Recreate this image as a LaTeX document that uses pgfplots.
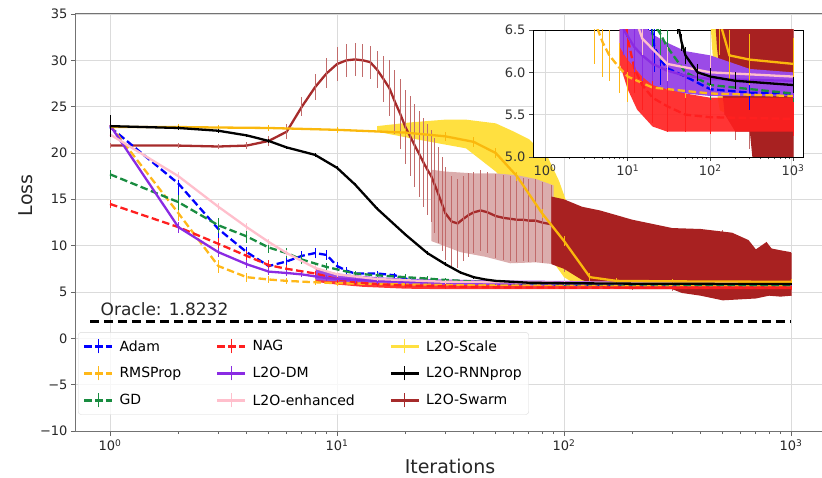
\documentclass[border=0pt]{standalone}
\usepackage{pgfplots}
\pgfplotsset{compat=1.18}
\usepackage{pgfplotstable}
\usepackage{fontspec}
\setmainfont{DejaVu Sans}

\definecolor{cAdam}{rgb}{0,0,1}
\definecolor{cRMS}{rgb}{1,0.72,0.1}
\definecolor{cGD}{rgb}{0.1,0.55,0.25}
\definecolor{cNAG}{rgb}{1,0.12,0.12}
\definecolor{cDM}{rgb}{0.54,0.17,0.89}
\definecolor{cEnh}{rgb}{1,0.75,0.8}
\definecolor{cScale}{rgb}{1,0.88,0.25}
\definecolor{cScaleLine}{rgb}{0.98,0.72,0.05}
\definecolor{cSwarm}{rgb}{0.65,0.17,0.17}
\definecolor{cSwarmDark}{rgb}{0.66,0.13,0.13}
\definecolor{cSwarmLight}{rgb}{0.86,0.68,0.68}

% mean curves: x y err
\pgfplotstableread{
x y e
1 22.8 0.6
2 16.7 1.2
3 11.8 1.0
4 9.3 0.6
5 7.8 0.5
6 8.3 0.5
7 8.9 0.5
8 9.2 0.5
9 9.0 0.5
10 7.8 0.4
11 7.3 0.4
12 7.0 0.3
15 7.0 0.3
18 6.8 0.3
21 6.3 0.3
25 6.15 0.3
30 6.05 0.2
50 5.95 0.2
100 5.8 0.2
300 5.76 0.2
1000 5.75 0.2
}\tAdam
\pgfplotstableread{
x y e
1 23.0 0.5
2 13.5 0.8
3 7.8 0.7
4 6.6 0.5
5 6.35 0.4
6 6.2 0.3
8 6.05 0.3
10 5.95 0.3
20 5.82 0.2
50 5.78 0.2
100 5.75 0.4
1000 5.72 0.2
}\tRMS
\pgfplotstableread{
x y e
1 17.7 0.5
2 14.7 0.8
3 12.2 0.8
4 11.0 0.7
5 9.8 0.6
6 9.2 0.5
7 8.5 0.5
9 7.7 0.4
12 7.0 0.3
15 6.8 0.3
20 6.6 0.3
25 6.45 0.3
30 6.3 0.2
50 6.0 0.2
100 5.85 0.2
1000 5.75 0.2
}\tGD
\pgfplotstableread{
x y e
1 14.5 0.4
2 12.0 0.6
3 10.2 0.6
4 8.9 0.5
5 7.9 0.5
6 7.5 0.4
8 7.0 0.4
10 6.4 0.4
12 6.05 0.3
15 5.85 0.3
20 5.7 0.3
30 5.6 0.3
50 5.5 0.2
100 5.47 0.2
1000 5.45 0.2
}\tNAG
\pgfplotstableread{
x y e
1 23.0 0.5
2 12.0 0.6
3 9.3 0.5
4 8.0 0.4
5 7.2 0.4
6 7.05 0.3
7 6.9 0.3
9 6.5 0.3
12 6.3 0.3
15 6.2 0.3
20 6.1 0.2
30 6.02 0.2
50 5.96 0.2
100 5.92 0.2
1000 5.9 0.2
}\tDM
\pgfplotstableread{
x y e
1 22.0 0.3
2 17.5 0.4
3 14.2 0.4
4 12.0 0.4
5 10.4 0.3
6 9.2 0.3
8 7.6 0.3
10 6.9 0.3
15 6.4 0.2
30 6.1 0.2
100 6.0 0.2
1000 5.95 0.2
}\tEnh
\pgfplotstableread{
x y e
1 22.8 0.3
2 22.8 0.3
3 22.75 0.3
5 22.7 0.3
10 22.5 0.3
20 22.2 0.4
30 21.8 0.5
40 21.2 0.5
50 20.0 0.5
62 17.5 0.5
80 13.5 0.5
100 10.5 0.5
130 6.6 0.4
170 6.2 0.3
300 6.15 0.3
1000 6.1 0.3
}\tScale
\pgfplotstableread{
x y e
1 22.9 1.2
2 22.7 0.2
3 22.4 0.2
4 21.9 0.2
5 21.3 0.2
6 20.6 0.2
8 19.8 0.2
10 18.4 0.2
12 16.6 0.2
15 14.0 0.2
20 11.2 0.2
25 9.2 0.2
30 8.0 0.2
35 7.1 0.15
40 6.6 0.15
45 6.35 0.1
50 6.2 0.1
70 6.0 0.1
100 5.95 0.1
200 5.9 0.1
1000 5.85 0.1
}\tRNN
\pgfplotstableread{
x y e
1 20.8 0.3
2 20.8 0.3
3 20.7 0.3
4 20.8 0.4
5 21.3 0.5
6 22.3 0.8
7 25.0 1.0
8 27.1 1.4
9 28.6 1.6
10 29.6 1.8
11 30.0 1.8
12 30.1 1.8
13 30.0 1.8
14 29.8 1.8
15 29.0 2.0
16 28.0 2.5
17 27.0 3.0
18 25.5 3.5
19 24.2 3.8
20 22.8 4.0
21 21.8 4.3
22 20.8 4.5
23 19.9 4.6
24 19.0 4.8
25 18.2 4.9
26 17.5 5.0
27 16.5 5.1
28 15.5 5.2
29 14.5 5.1
30 13.5 5.0
32 12.6 4.9
34 12.4 4.8
36 12.9 4.6
38 13.3 4.5
40 13.6 4.4
43 13.8 4.4
46 13.6 4.4
50 13.2 4.5
54 13.0 4.6
58 12.9 4.6
62 12.8 4.6
66 12.8 4.5
70 12.7 4.5
75 12.7 4.5
80 12.5 4.4
88 12.3 4.2
100 11.0 3.8
150 9.5 4.0
200 9.0 3.8
300 8.5 3.4
500 7.9 3.8
700 7.0 2.6
1000 6.9 2.3
}\tSwarm

% spread bands: outline, upper edge then lower edge
\pgfplotstableread{
x y
15 22.9
21 23.3
30 23.6
37 23.6
50 23.2
59 22.4
70 21.5
85 19.5
95 17.0
105 14.0
120 10.0
140 7.5
170 6.7
200 6.5
400 6.4
1000 6.35
1000 5.85
400 5.8
200 5.7
170 5.5
130 5.55
110 6.0
100 6.6
85 9.0
70 13.0
59 16.0
50 18.0
37 20.5
21 21.6
15 22.3
}\bScale
\pgfplotstableread{
x y
26 18.2
30 18.0
40 17.8
50 17.8
62 17.6
75 17.2
90 16.5
90 8.0
75 8.2
58 8.1
45 8.8
35 9.3
26 10.5
}\bSwarmL
\pgfplotstableread{
x y
88 15.3
100 15.0
120 14.2
144 13.8
200 12.8
300 11.9
400 11.8
550 11.4
650 10.6
700 9.6
780 10.4
820 9.7
900 9.5
1000 9.3
1000 4.6
900 4.5
800 4.6
700 4.3
500 4.1
400 4.6
330 4.9
300 5.3
200 5.3
150 5.5
120 6.3
100 7.5
88 8.0
}\bSwarmD
\pgfplotstableread{
x y
8 7.6
10 7.0
12 6.6
15 6.3
20 6.0
30 5.85
50 5.75
100 5.7
1000 5.7
1000 5.3
100 5.3
30 5.3
20 5.36
13 5.56
10 5.8
8 6.1
}\bNAG
\pgfplotstableread{
x y
8 7.4
10 7.0
15 6.6
20 6.45
30 6.35
50 6.25
100 6.2
300 6.04
1000 6.0
1000 5.72
300 5.72
100 5.72
50 5.75
30 5.8
20 5.85
15 5.95
10 6.15
8 6.3
}\bDM

\pgfplotsset{
  ebar/.style={error bars/.cd, y dir=both, y explicit, error mark=none,
    error bar style={#1, line width=1pt, solid}},
  dsh/.style={dash pattern=on 7.5pt off 3.5pt},
  ln/.style={line width=2.3pt},
}

\newcommand\drawall{%
  \addplot[draw=none, fill=cScale, forget plot] table[x=x,y=y]{\bScale} -- cycle;
  \addplot[draw=none, fill=cSwarmLight, forget plot] table[x=x,y=y]{\bSwarmL} -- cycle;
  \addplot[cSwarm, ln, forget plot, ebar={cSwarm!70}] table[x=x,y=y,y error=e]{\tSwarm};
  \addplot[draw=none, fill=cSwarmDark, forget plot] table[x=x,y=y]{\bSwarmD} -- cycle;
  \addplot[draw=none, fill=cNAG, fill opacity=0.9, forget plot] table[x=x,y=y]{\bNAG} -- cycle;
  \addplot[draw=none, fill=cDM!85, forget plot] table[x=x,y=y]{\bDM} -- cycle;
  \addplot[cAdam, ln, dsh, forget plot, ebar=cAdam] table[x=x,y=y,y error=e]{\tAdam};
  \addplot[cRMS, ln, dsh, forget plot, ebar=cRMS] table[x=x,y=y,y error=e]{\tRMS};
  \addplot[cGD, ln, dsh, forget plot, ebar=cGD] table[x=x,y=y,y error=e]{\tGD};
  \addplot[cNAG, ln, dsh, forget plot, ebar=cNAG] table[x=x,y=y,y error=e]{\tNAG};
  \addplot[cDM, ln, forget plot, ebar=cDM] table[x=x,y=y,y error=e]{\tDM};
  \addplot[cEnh, ln, forget plot, ebar=cEnh] table[x=x,y=y,y error=e]{\tEnh};
  \addplot[cScaleLine, ln, forget plot, ebar=cScaleLine] table[x=x,y=y,y error=e]{\tScale};
  \addplot[black, ln, forget plot, ebar=black] table[x=x,y=y,y error=e]{\tRNN};
}

\begin{document}
\begin{tikzpicture}
\useasboundingbox (-76pt,-46pt) rectangle (746pt,431pt);
\begin{axis}[
  scale only axis, width=748pt, height=417pt,
  xmode=log, xmin=0.708, xmax=1397, ymin=-10, ymax=35,
  xtick={1,10,100,1000},
  xticklabels={10\textsuperscript{0},10\textsuperscript{1},10\textsuperscript{2},10\textsuperscript{3}},
  ytick={-10,-5,...,35},
  yticklabels={−10,−5,0,5,10,15,20,25,30,35},
  tick pos=left, tick align=outside,
  major tick length=5pt, minor tick length=3pt,
  grid=major, grid style={black!14, line width=0.8pt},
  axis line style={black!55, line width=1pt},
  every tick/.style={black!60, line width=0.8pt},
  ticklabel style={font=\fontsize{13}{13}\selectfont, text=black!85},
  xlabel={Iterations}, ylabel={Loss},
  every axis x label/.style={at={(axis description cs:0.5,-0.103)}, anchor=base,
    font=\fontsize{19}{19}\selectfont, text=black!85},
  every axis y label/.style={at={(axis description cs:-0.0588,0.565)}, anchor=base, rotate=90,
    font=\fontsize{19}{19}\selectfont, text=black!85},
  legend columns=3,
  legend cell align=left,
  legend image code/.code={\draw[#1] (0pt,0pt) -- (28pt,0pt);
    \draw[#1,solid,line width=1pt] (14pt,-7pt) -- (14pt,7pt);},
  legend style={at={(axis description cs:0.0027,0.237)}, anchor=north west,
    font=\fontsize{14}{14}\selectfont, draw=black!15, fill=white,
    fill opacity=0.8, text opacity=1, rounded corners=3pt,
    inner xsep=5pt, inner ysep=6pt, row sep=11pt,
    /tikz/every even column/.append style={column sep=33pt},
    /tikz/every odd column/.append style={column sep=4pt}},
]
\drawall
\addplot[black, line width=2.4pt, dash pattern=on 9pt off 5pt, forget plot]
  coordinates {(0.82,1.8232) (1000,1.8232)};
\node[anchor=base west, font=\fontsize{17}{17}\selectfont, text=black!85]
  at (axis cs:0.877,2.48) {Oracle: 1.8232};

\addlegendimage{cAdam, ln, dsh}
\addlegendimage{cNAG, ln, dsh}
\addlegendimage{cScale, ln}
\addlegendimage{cRMS, ln, dsh}
\addlegendimage{cDM, ln}
\addlegendimage{black, ln}
\addlegendimage{cGD, ln, dsh}
\addlegendimage{cEnh, ln}
\addlegendimage{cSwarm, ln}
\legend{Adam, NAG, L2O-Scale, RMSProp, L2O-DM, L2O-RNNprop, GD, L2O-enhanced, L2O-Swarm}
\end{axis}

\begin{axis}[
  at={(457pt,274pt)}, anchor=south west,
  scale only axis, width=270pt, height=127pt,
  xmode=log, xmin=0.716, xmax=1320, ymin=5, ymax=6.5,
  xtick={1,10,100,1000},
  xticklabels={10\textsuperscript{0},10\textsuperscript{1},10\textsuperscript{2},10\textsuperscript{3}},
  ytick={5,5.5,6,6.5}, yticklabels={5.0,5.5,6.0,6.5},
  tick pos=left, tick align=outside,
  major tick length=4pt, minor tick length=2.5pt,
  grid=major, grid style={black!14, line width=0.8pt},
  axis line style={black, line width=0.9pt},
  every tick/.style={black!70, line width=0.8pt},
  ticklabel style={font=\fontsize{13}{13}\selectfont, text=black!80},
  axis background/.style={fill=white},
]
\drawall
\end{axis}
\end{tikzpicture}
\end{document}
